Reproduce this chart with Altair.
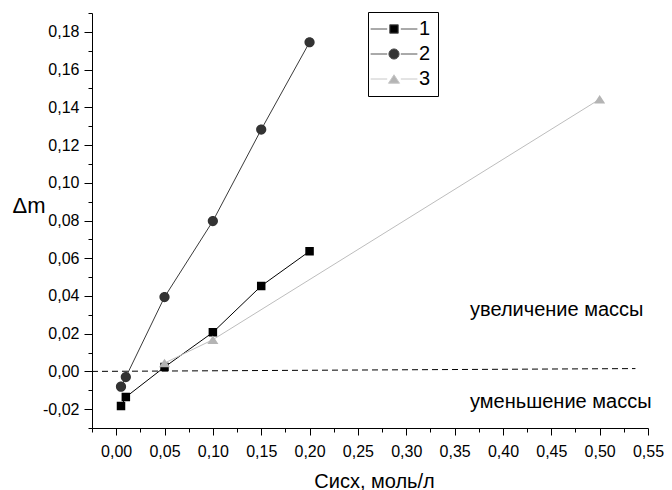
import altair as alt
import pandas as pd

# ---- data ----
series_names = ["1", "2", "3"]
c1 = [0.005, 0.01, 0.05, 0.10, 0.15, 0.20]
dm1 = [-0.0184, -0.0136, 0.0023, 0.0207, 0.0453, 0.0637]
c2 = [0.005, 0.01, 0.05, 0.10, 0.15, 0.20]
dm2 = [-0.0081, -0.0030, 0.0394, 0.0797, 0.1282, 0.1745]
c3 = [0.05, 0.10, 0.50]
dm3 = [0.0044, 0.0168, 0.1443]

zero_x = [-0.025, 0.537]
zero_y = [0.0, 0.0015]

note_texts = ["увеличение массы", "уменьшение массы"]
note_x = [0.366, 0.366]
note_y = [0.0324, -0.0164]

x_ticks = [-0.025, 0.0, 0.025, 0.05, 0.075, 0.10, 0.125, 0.15, 0.175, 0.20,
           0.225, 0.25, 0.275, 0.30, 0.325, 0.35, 0.375, 0.40, 0.425, 0.45,
           0.475, 0.50, 0.525, 0.55]
y_ticks = [-0.03, -0.02, -0.01, 0.0, 0.01, 0.02, 0.03, 0.04, 0.05, 0.06, 0.07,
           0.08, 0.09, 0.10, 0.11, 0.12, 0.13, 0.14, 0.15, 0.16, 0.17, 0.18, 0.19]

fill_colors = ["#000000", "#333333", "#b4b4b4"]
line_colors = ["#000000", "#3a3a3a", "#bdbdbd"]
legend_line_colors = ["#555555", "#555555", "#c8c8c8"]
shape_paths = [
    "M-2.75,0H-0.8M0.8,0H2.75M-0.5,-0.5H0.5V0.5H-0.5Z",
    "M-2.75,0H-0.8M0.8,0H2.75M-0.6,0A0.6,0.6,0,1,1,0.6,0A0.6,0.6,0,1,1,-0.6,0Z",
    "M-2.75,0H-0.8M0.8,0H2.75M0,-0.5L0.65,0.5H-0.65Z",
]

rows = []
for name, xs, ys in [("1", c1, dm1), ("2", c2, dm2), ("3", c3, dm3)]:
    for xv, yv in zip(xs, ys):
        rows.append({"series": name, "line_series": name, "c": xv, "dm": yv})
df = pd.DataFrame(rows)
zero_df = pd.DataFrame({"c": zero_x, "dm": zero_y})
note_df = pd.DataFrame({"t": note_texts, "c": note_x, "dm": note_y})

FONT = "Liberation Sans"

x_scale = alt.Scale(domain=[-0.025, 0.55], nice=False, zero=False)
y_scale = alt.Scale(domain=[-0.03, 0.19], nice=False, zero=False)

x_axis = alt.Axis(
    values=x_ticks,
    title="Сисх, моль/л",
    titleFont=FONT, titleFontSize=20, titleFontWeight="normal", titleColor="black",
    titleX=282, titleY=53, titleAlign="center", titleBaseline="middle",
    labelExpr="round(datum.value*1000) % 50 == 0 ? replace(replace(format(datum.value, '.2f'), '.', ','), '\u2212', '-') : ''",
    labelFont=FONT, labelFontSize=16, labelColor="black", labelPadding=8,
    labelFlush=False, labelOverlap=False,
    tickSize={"condition": {"test": "round(datum.value*1000) % 50 == 0", "value": 7}, "value": 4},
    tickColor="black", domainColor="black", grid=False,
)
y_axis = alt.Axis(
    values=y_ticks,
    title="Δm",
    titleFont=FONT, titleFontSize=22, titleFontWeight="normal", titleColor="black",
    titleAngle=0, titleX=-63.5, titleY=192, titleAlign="center", titleBaseline="middle",
    labelExpr="round(datum.value*100) % 2 == 0 ? replace(replace(format(datum.value, '.2f'), '.', ','), '\u2212', '-') : ''",
    labelFont=FONT, labelFontSize=16, labelColor="black", labelPadding=5,
    labelFlush=False, labelOverlap=False,
    tickSize={"condition": {"test": "round(datum.value*100) % 2 == 0", "value": 8}, "value": 4},
    tickColor="black", domainColor="black", grid=False,
)

legend = alt.Legend(
    title=None, orient="none", legendX=276, legendY=-1,
    strokeColor="black", fillColor="white", padding=7,
    symbolSize=289, symbolStrokeWidth=1, symbolOffset=9,
    labelOffset=15, labelFont=FONT, labelFontSize=20, labelColor="black",
    rowPadding=5,
)

lines = alt.Chart(df).mark_line(strokeWidth=1).encode(
    x=alt.X("c:Q", scale=x_scale, axis=x_axis),
    y=alt.Y("dm:Q", scale=y_scale, axis=y_axis),
    color=alt.Color("line_series:N", scale=alt.Scale(range=line_colors), legend=None),
)

points = alt.Chart(df).mark_point(filled=True, opacity=1, size=289).encode(
    x=alt.X("c:Q", scale=x_scale, axis=x_axis),
    y=alt.Y("dm:Q", scale=y_scale, axis=y_axis),
    shape=alt.Shape("series:N", scale=alt.Scale(domain=series_names, range=shape_paths), legend=legend),
    fill=alt.Fill("series:N", scale=alt.Scale(domain=series_names, range=fill_colors), legend=legend),
    stroke=alt.Stroke("series:N", scale=alt.Scale(domain=series_names, range=legend_line_colors), legend=legend),
    strokeWidth=alt.value(0),
)

zero_line = alt.Chart(zero_df).mark_line(color="black", strokeWidth=1, strokeDash=[6, 4]).encode(
    x=alt.X("c:Q", scale=x_scale, axis=x_axis),
    y=alt.Y("dm:Q", scale=y_scale, axis=y_axis),
)

notes = alt.Chart(note_df).mark_text(
    font=FONT, fontSize=20, color="black", align="left", baseline="middle"
).encode(
    x=alt.X("c:Q", scale=x_scale, axis=x_axis),
    y=alt.Y("dm:Q", scale=y_scale, axis=y_axis),
    text="t:N",
)

chart = alt.layer(zero_line, lines, points, notes).properties(
    width=556, height=415,
    autosize=alt.AutoSizeParams(type="none"),
    padding={"left": 84, "top": 5, "right": 16, "bottom": 62},
).configure_view(stroke="transparent")

chart.save("out.html", embed_options={"renderer": "svg", "actions": False})
